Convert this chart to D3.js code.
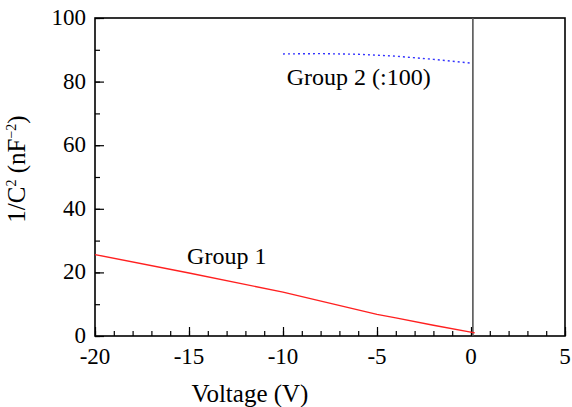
<!DOCTYPE html>
<html>
<head>
<meta charset="utf-8">
<script src="https://cdn.jsdelivr.net/npm/d3@7"></script>
</head>
<body style="margin:0; background:#fff">
<div id="chart"></div>
<script>
// data
var group1V = [-20, -15, -10, -5, -4, -2, 0.2];
var group1C = [25.6, 19.8, 13.8, 6.8, 5.7, 3.4, 1.0];
var group2V = [-10, -8, -6, -4, -2, 0];
var group2C = [88.7, 88.8, 88.6, 88.0, 87.0, 85.8];
var xTicks = [-20, -15, -10, -5, 0, 5];
var yTicks = [0, 20, 40, 60, 80, 100];

var fontFam = "Liberation Serif";

var margin = {top: 18, right: 7, bottom: 71, left: 95},
    width = 572 - margin.left - margin.right,
    height = 407 - margin.top - margin.bottom;

var root = d3.select("#chart")
  .append("svg")
    .attr("width", 572)
    .attr("height", 407)
    .attr("font-family", fontFam);
var svg = root.append("g")
    .attr("transform", "translate(" + margin.left + "," + margin.top + ")");

var x = d3.scaleLinear().domain([-20, 5]).range([0, width]);
var y = d3.scaleLinear().domain([0, 100]).range([height, 0]);

// minor ticks (inward)
svg.append("g")
  .attr("transform", "translate(0," + height + ")")
  .call(d3.axisBottom(x).tickValues(d3.range(-20, 6, 1)).tickSize(-5).tickFormat(""))
  .call(function(g) { g.select(".domain").remove(); g.selectAll("line").attr("stroke-width", 1.2); });
svg.append("g")
  .call(d3.axisLeft(y).tickValues(d3.range(0, 101, 10)).tickSize(-5).tickFormat(""))
  .call(function(g) { g.select(".domain").remove(); g.selectAll("line").attr("stroke-width", 1.2); });

// major ticks + labels, drawn as plain texts
svg.append("g")
  .attr("transform", "translate(0," + height + ")")
  .call(d3.axisBottom(x).tickValues(xTicks).tickSize(-9).tickFormat(""))
  .call(function(g) { g.select(".domain").remove(); g.selectAll("line").attr("stroke-width", 1.2); });
svg.append("g")
  .call(d3.axisLeft(y).tickValues(yTicks).tickSize(-9).tickFormat(""))
  .call(function(g) { g.select(".domain").remove(); g.selectAll("line").attr("stroke-width", 1.2); });

svg.selectAll(".xlab").data(xTicks).enter().append("text")
  .attr("class", "xlab")
  .attr("x", function(d) { return x(d); }).attr("y", height + 28)
  .attr("text-anchor", "middle")
  .attr("font-family", fontFam).attr("font-size", 23)
  .text(function(d) { return String(d); });
svg.selectAll(".ylab").data(yTicks).enter().append("text")
  .attr("class", "ylab")
  .attr("x", -9).attr("y", function(d) { return y(d) + 7; })
  .attr("text-anchor", "end")
  .attr("font-family", fontFam).attr("font-size", 23)
  .text(function(d) { return String(d); });

// frame
svg.append("rect")
  .attr("width", width).attr("height", height)
  .attr("fill", "none").attr("stroke", "#000").attr("stroke-width", 1.6);

// zero line
svg.append("line")
  .attr("x1", x(0.1)).attr("x2", x(0.1)).attr("y1", 0).attr("y2", height)
  .attr("stroke", "#555").attr("stroke-width", 1.6);

var line = d3.line().x(function(d) { return x(d[0]); }).y(function(d) { return y(d[1]); });

svg.append("path")
  .datum(d3.zip(group1V, group1C))
  .attr("d", line)
  .attr("fill", "none").attr("stroke", "#ff2020").attr("stroke-width", 1.4);

svg.append("path")
  .datum(d3.zip(group2V, group2C))
  .attr("d", line)
  .attr("fill", "none").attr("stroke", "#3333ff").attr("stroke-width", 1.4)
  .attr("stroke-dasharray", "2,3");

svg.append("text")
  .attr("x", x(-15.1)).attr("y", y(22.6))
  .attr("font-family", fontFam).attr("font-size", 24).text("Group 1");
svg.append("text")
  .attr("x", x(-9.8)).attr("y", y(78.8))
  .attr("font-family", fontFam).attr("font-size", 24).text("Group 2 (:100)");

// axis titles
svg.append("text")
  .attr("x", width / 2 - 80).attr("y", height + 66)
  .attr("text-anchor", "middle")
  .attr("font-family", fontFam).attr("font-size", 25)
  .text("Voltage (V)");

var yl = svg.append("text")
  .attr("transform", "translate(" + (-70) + "," + (height / 2 - 8) + ") rotate(-90)")
  .attr("text-anchor", "middle")
  .attr("font-family", fontFam).attr("font-size", 25);
yl.append("tspan").text("1/C");
yl.append("tspan").attr("font-size", 14).attr("dy", -9).text("2");
yl.append("tspan").attr("dy", 9).text(" (nF");
yl.append("tspan").attr("font-size", 14).attr("dy", -9).text("\u22122");
yl.append("tspan").attr("dy", 9).text(")");
</script>
</body>
</html>
